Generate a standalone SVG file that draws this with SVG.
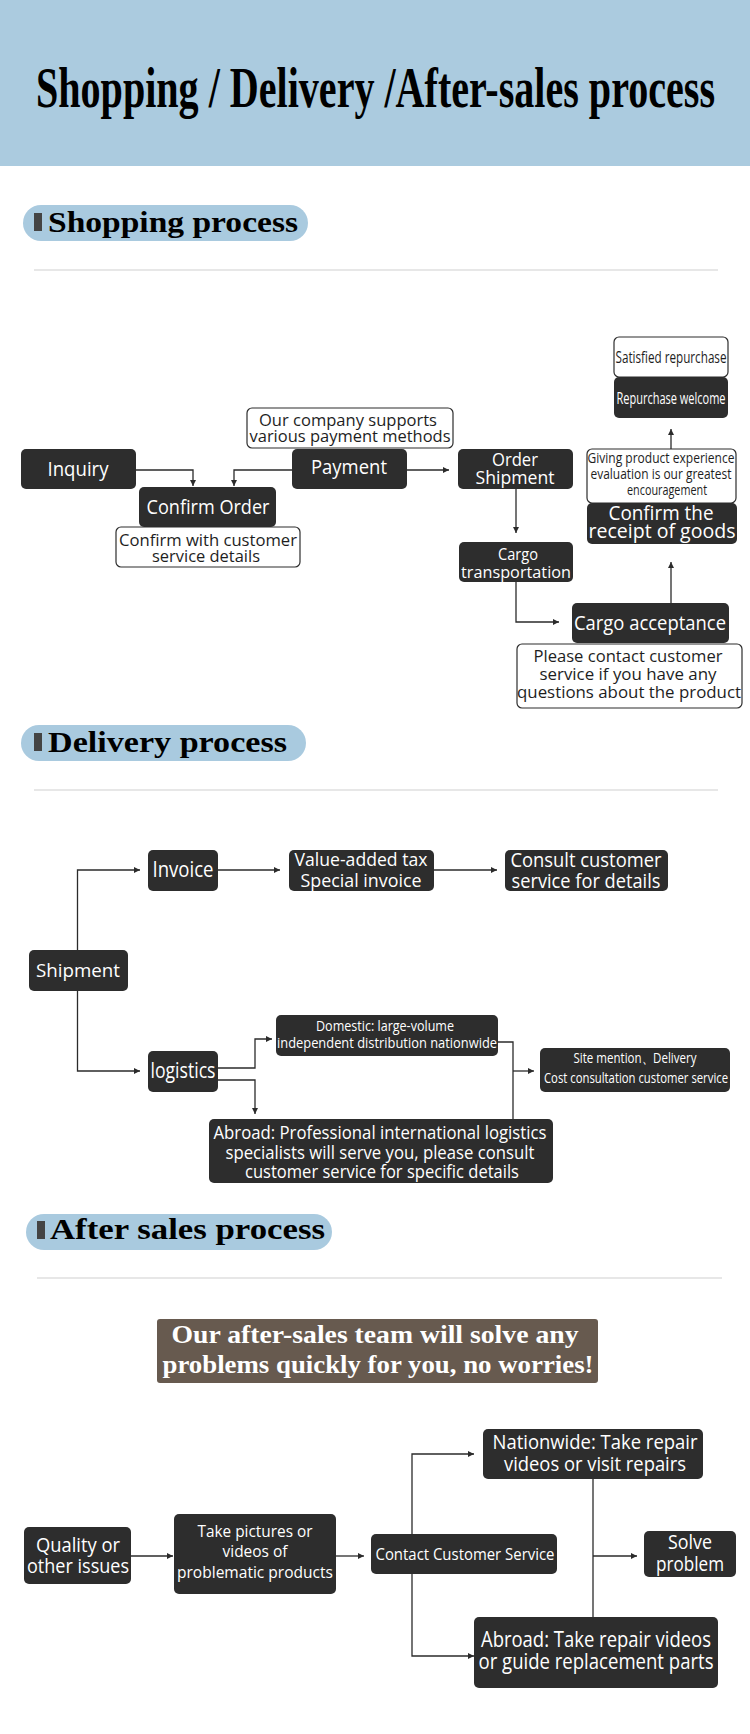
<svg xmlns="http://www.w3.org/2000/svg" width="750" height="1734" viewBox="0 0 750 1734">
<defs>
<marker id="ah" markerWidth="7" markerHeight="6" refX="6" refY="3" orient="auto" markerUnits="userSpaceOnUse">
<path d="M0,0 L6,3 L0,6 Z" fill="#2b2b2b"/>
</marker>
<style>
.dk{fill:#2d2d2d;}
.wb{fill:#ffffff;stroke:#2d2d2d;stroke-width:1.2;}
.tw{fill:#ffffff;font-family:"Open Sans","Noto Sans",sans-serif;text-anchor:middle;}
.tb{fill:#1e1e1e;font-family:"Open Sans","Noto Sans",sans-serif;text-anchor:middle;}
.hd{fill:#000000;font-family:"Liberation Serif",serif;font-weight:bold;}
.pill{fill:#a9cadf;}
.mk{fill:#444444;}
.sep{stroke:#cfcfcf;stroke-width:1.2;}
.cn{fill:none;stroke:#2b2b2b;stroke-width:1.3;}
.ar{marker-end:url(#ah);}
</style>
</defs>
<rect x="0" y="0" width="750" height="1734" fill="#ffffff"/>
<g id="header">
<rect x="0" y="0" width="750" height="166" fill="#abcbdf"/>
<text class="hd" x="36" y="107" font-size="56" textLength="679" lengthAdjust="spacingAndGlyphs">Shopping / Delivery /After-sales process</text>
</g>
<g id="sec-shopping">
<rect class="pill" x="23" y="205" width="285" height="36" rx="18"/>
<rect class="mk" x="34" y="213" width="8" height="18"/>
<text class="hd" x="48" y="232" font-size="29" textLength="250" lengthAdjust="spacingAndGlyphs">Shopping process</text>
<line class="sep" x1="34" y1="270" x2="718" y2="270"/>
</g>
<g id="sec-delivery">
<rect class="pill" x="21" y="725" width="285" height="36" rx="18"/>
<rect class="mk" x="34" y="733" width="8" height="18"/>
<text class="hd" x="48" y="752" font-size="29" textLength="239" lengthAdjust="spacingAndGlyphs">Delivery process</text>
<line class="sep" x1="34" y1="790" x2="718" y2="790"/>
</g>
<g id="sec-aftersales">
<rect class="pill" x="26" y="1214" width="306" height="36" rx="18"/>
<rect class="mk" x="37" y="1221" width="8" height="18"/>
<text class="hd" x="50" y="1239" font-size="29" textLength="275" lengthAdjust="spacingAndGlyphs">After sales process</text>
<line class="sep" x1="37" y1="1278" x2="722" y2="1278"/>
</g>

<g id="connectors">
<path class="cn ar" d="M136,470 H193 V486"/>
<path class="cn ar" d="M292,470 H234 V486"/>
<path class="cn ar" d="M407,470 H449"/>
<path class="cn ar" d="M516,489 V533"/>
<path class="cn ar" d="M516,582 V622 H559"/>
<path class="cn ar" d="M671,603 V562"/>
<path class="cn ar" d="M671,449 V429"/>
<path class="cn ar" d="M77.5,950 V870 H140"/>
<path class="cn ar" d="M218,870 H280"/>
<path class="cn ar" d="M434,870 H497"/>
<path class="cn ar" d="M77.5,991 V1071 H140"/>
<path class="cn ar" d="M218,1068 H255 V1039 H272"/>
<path class="cn ar" d="M218,1080 H255 V1114"/>
<path class="cn" d="M498,1042 H513 V1119"/>
<path class="cn ar" d="M513,1071 H534"/>
<path class="cn ar" d="M131,1556 H173"/>
<path class="cn ar" d="M336,1556 H364"/>
<path class="cn ar" d="M412,1534 V1454 H474"/>
<path class="cn ar" d="M412,1574 V1656 H474"/>
<path class="cn" d="M593,1479 V1617"/>
<path class="cn ar" d="M593,1556 H637"/>
</g>

<g id="n-inquiry">
<rect class="dk" x="21" y="449" width="115" height="40" rx="5"/>
<text class="tw" x="78" y="476" font-size="20" textLength="61" lengthAdjust="spacingAndGlyphs">Inquiry</text>
</g>
<g id="n-confirm-order">
<rect class="dk" x="139" y="487" width="137" height="40" rx="5"/>
<text class="tw" x="208" y="514" font-size="20" textLength="123" lengthAdjust="spacingAndGlyphs">Confirm Order</text>
</g>
<g id="n-confirm-note">
<rect class="wb" x="116" y="527" width="184" height="40" rx="5"/>
<text class="tb" x="208" y="546" font-size="16.5" textLength="178" lengthAdjust="spacingAndGlyphs">Confirm with customer</text>
<text class="tb" x="206" y="562" font-size="16.5" textLength="108" lengthAdjust="spacingAndGlyphs">service details</text>
</g>
<g id="n-payment">
<rect class="dk" x="292" y="449" width="115" height="40" rx="5"/>
<text class="tw" x="349" y="474" font-size="20" textLength="76" lengthAdjust="spacingAndGlyphs">Payment</text>
</g>
<g id="n-payment-note">
<rect class="wb" x="247" y="408" width="206" height="40" rx="5"/>
<text class="tb" x="348" y="426" font-size="16" textLength="178" lengthAdjust="spacingAndGlyphs">Our company supports</text>
<text class="tb" x="350" y="442" font-size="16" textLength="201" lengthAdjust="spacingAndGlyphs">various payment methods</text>
</g>
<g id="n-order-shipment">
<rect class="dk" x="458" y="449" width="115" height="40" rx="5"/>
<text class="tw" x="515" y="466" font-size="18" textLength="46" lengthAdjust="spacingAndGlyphs">Order</text>
<text class="tw" x="515" y="484" font-size="18" textLength="79" lengthAdjust="spacingAndGlyphs">Shipment</text>
</g>
<g id="n-cargo-transport">
<rect class="dk" x="459" y="542" width="114" height="40" rx="5"/>
<text class="tw" x="518" y="560" font-size="17" textLength="40" lengthAdjust="spacingAndGlyphs">Cargo</text>
<text class="tw" x="516" y="578" font-size="17" textLength="110" lengthAdjust="spacingAndGlyphs">transportation</text>
</g>
<g id="n-cargo-acceptance">
<rect class="dk" x="572" y="603" width="157" height="40" rx="5"/>
<text class="tw" x="650" y="630" font-size="20" textLength="152" lengthAdjust="spacingAndGlyphs">Cargo acceptance</text>
</g>
<g id="n-cargo-note">
<rect class="wb" x="517" y="644" width="225" height="64" rx="5"/>
<text class="tb" x="628" y="662" font-size="17" textLength="189" lengthAdjust="spacingAndGlyphs">Please contact customer</text>
<text class="tb" x="628" y="680" font-size="17" textLength="177" lengthAdjust="spacingAndGlyphs">service if you have any</text>
<text class="tb" x="629" y="698" font-size="17" textLength="224" lengthAdjust="spacingAndGlyphs">questions about the product</text>
</g>
<g id="n-confirm-receipt">
<rect class="dk" x="587" y="503" width="150" height="41" rx="5"/>
<text class="tw" x="661" y="520" font-size="20" textLength="105" lengthAdjust="spacingAndGlyphs">Confirm the</text>
<text class="tw" x="662" y="538" font-size="20" textLength="147" lengthAdjust="spacingAndGlyphs">receipt of goods</text>
</g>
<g id="n-evaluation-note">
<rect class="wb" x="587" y="449" width="149" height="54" rx="5"/>
<text class="tb" x="661" y="463" font-size="14" textLength="147" lengthAdjust="spacingAndGlyphs">Giving product experience</text>
<text class="tb" x="661" y="479" font-size="14" textLength="141" lengthAdjust="spacingAndGlyphs">evaluation is our greatest</text>
<text class="tb" x="667" y="495" font-size="14" textLength="80" lengthAdjust="spacingAndGlyphs">encouragement</text>
</g>
<g id="n-repurchase">
<rect class="dk" x="614" y="377" width="114" height="41" rx="5"/>
<text class="tw" x="671" y="404" font-size="16" textLength="109" lengthAdjust="spacingAndGlyphs">Repurchase welcome</text>
</g>
<g id="n-satisfied">
<rect class="wb" x="614" y="337" width="114" height="40" rx="5"/>
<text class="tb" x="671" y="363" font-size="16" textLength="111" lengthAdjust="spacingAndGlyphs">Satisfied repurchase</text>
</g>

<g id="n-shipment">
<rect class="dk" x="29" y="950" width="99" height="41" rx="5"/>
<text class="tw" x="78" y="977" font-size="19" textLength="84" lengthAdjust="spacingAndGlyphs">Shipment</text>
</g>
<g id="n-invoice">
<rect class="dk" x="148" y="850" width="70" height="41" rx="5"/>
<text class="tw" x="183" y="877" font-size="21" textLength="61" lengthAdjust="spacingAndGlyphs">Invoice</text>
</g>
<g id="n-vat">
<rect class="dk" x="289" y="850" width="145" height="41" rx="5"/>
<text class="tw" x="361" y="866" font-size="19" textLength="133" lengthAdjust="spacingAndGlyphs">Value-added tax</text>
<text class="tw" x="361" y="887" font-size="19" textLength="121" lengthAdjust="spacingAndGlyphs">Special invoice</text>
</g>
<g id="n-consult">
<rect class="dk" x="505" y="850" width="163" height="41" rx="5"/>
<text class="tw" x="586" y="867" font-size="20" textLength="151" lengthAdjust="spacingAndGlyphs">Consult customer</text>
<text class="tw" x="586" y="888" font-size="20" textLength="149" lengthAdjust="spacingAndGlyphs">service for details</text>
</g>
<g id="n-logistics">
<rect class="dk" x="148" y="1051" width="70" height="41" rx="5"/>
<text class="tw" x="183" y="1078" font-size="21" textLength="65" lengthAdjust="spacingAndGlyphs">logistics</text>
</g>
<g id="n-domestic">
<rect class="dk" x="276" y="1015" width="222" height="41" rx="5"/>
<text class="tw" x="385" y="1031" font-size="15" textLength="138" lengthAdjust="spacingAndGlyphs">Domestic: large-volume</text>
<text class="tw" x="387" y="1048" font-size="15" textLength="220" lengthAdjust="spacingAndGlyphs">independent distribution nationwide</text>
</g>
<g id="n-site">
<rect class="dk" x="540" y="1048" width="190" height="44" rx="5"/>
<text class="tw" x="635" y="1063" font-size="15" textLength="123" lengthAdjust="spacingAndGlyphs">Site mention、Delivery</text>
<text class="tw" x="636" y="1083" font-size="15" textLength="184" lengthAdjust="spacingAndGlyphs">Cost consultation customer service</text>
</g>
<g id="n-abroad-delivery">
<rect class="dk" x="209" y="1119" width="344" height="64" rx="5"/>
<text class="tw" x="380" y="1139" font-size="18" textLength="333" lengthAdjust="spacingAndGlyphs">Abroad: Professional international logistics</text>
<text class="tw" x="380" y="1159" font-size="18" textLength="309" lengthAdjust="spacingAndGlyphs">specialists will serve you, please consult</text>
<text class="tw" x="382" y="1178" font-size="18" textLength="274" lengthAdjust="spacingAndGlyphs">customer service for specific details</text>
</g>

<g id="n-banner">
<rect x="157" y="1319" width="441" height="64" rx="3" fill="#675a4f"/>
<text x="375" y="1343" fill="#ffffff" font-family="Liberation Serif,serif" font-weight="bold" font-size="25" text-anchor="middle" textLength="407" lengthAdjust="spacingAndGlyphs">Our after-sales team will solve any</text>
<text x="378" y="1373" fill="#ffffff" font-family="Liberation Serif,serif" font-weight="bold" font-size="25" text-anchor="middle" textLength="431" lengthAdjust="spacingAndGlyphs">problems quickly for you, no worries!</text>
</g>

<g id="n-quality">
<rect class="dk" x="24" y="1527" width="107" height="57" rx="5"/>
<text class="tw" x="78" y="1552" font-size="20" textLength="84" lengthAdjust="spacingAndGlyphs">Quality or</text>
<text class="tw" x="78" y="1573" font-size="20" textLength="102" lengthAdjust="spacingAndGlyphs">other issues</text>
</g>
<g id="n-pictures">
<rect class="dk" x="174" y="1514" width="162" height="80" rx="5"/>
<text class="tw" x="255" y="1537" font-size="17" textLength="115" lengthAdjust="spacingAndGlyphs">Take pictures or</text>
<text class="tw" x="255" y="1557" font-size="17" textLength="65" lengthAdjust="spacingAndGlyphs">videos of</text>
<text class="tw" x="255" y="1578" font-size="17" textLength="156" lengthAdjust="spacingAndGlyphs">problematic products</text>
</g>
<g id="n-contact">
<rect class="dk" x="371" y="1534" width="186" height="40" rx="5"/>
<text class="tw" x="465" y="1560" font-size="16" textLength="179" lengthAdjust="spacingAndGlyphs">Contact Customer Service</text>
</g>
<g id="n-nationwide">
<rect class="dk" x="483" y="1429" width="220" height="50" rx="5"/>
<text class="tw" x="595" y="1449" font-size="20" textLength="205" lengthAdjust="spacingAndGlyphs">Nationwide: Take repair</text>
<text class="tw" x="595" y="1471" font-size="20" textLength="182" lengthAdjust="spacingAndGlyphs">videos or visit repairs</text>
</g>
<g id="n-abroad-repair">
<rect class="dk" x="474" y="1617" width="244" height="71" rx="5"/>
<text class="tw" x="596" y="1647" font-size="21" textLength="230" lengthAdjust="spacingAndGlyphs">Abroad: Take repair videos</text>
<text class="tw" x="596" y="1669" font-size="21" textLength="235" lengthAdjust="spacingAndGlyphs">or guide replacement parts</text>
</g>
<g id="n-solve">
<rect class="dk" x="644" y="1531" width="92" height="46" rx="5"/>
<text class="tw" x="690" y="1549" font-size="20" textLength="44" lengthAdjust="spacingAndGlyphs">Solve</text>
<text class="tw" x="690" y="1571" font-size="20" textLength="68" lengthAdjust="spacingAndGlyphs">problem</text>
</g>
</svg>
